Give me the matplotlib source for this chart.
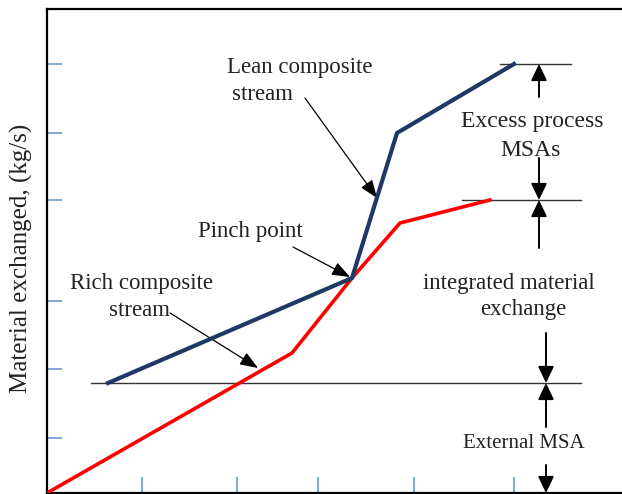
import matplotlib.pyplot as plt

plt.rcParams.update({
    "font.family": "Liberation Serif",
    "figure.dpi": 100,
})

NAVY = "#1F3864"
RED = "#FF0000"
TICK = "#5B8FD0"
INK = "#222222"

# composite curves (arbitrary units)
lean_x = [6.1, 30.5, 35.0, 46.7]
lean_y = [11.0, 21.5, 36.0, 42.9]
rich_x = [0.0, 24.5, 30.5, 35.3, 44.3]
rich_y = [0.0, 14.0, 21.5, 27.0, 29.3]

# reference levels: start of lean curve, top of rich curve, top of lean curve
level_y = [11.0, 29.3, 42.9]
level_x0 = [4.4, 41.5, 45.3]
level_x1 = [53.4, 53.4, 52.4]

x_ticks = [9.5, 19.0, 27.1, 36.7, 46.7]
y_ticks = [5.5, 12.4, 19.2, 29.3, 36.0, 42.9]

fig = plt.figure(figsize=(6.22, 4.94))
ax = fig.add_axes([47 / 622, 1 / 494, 575 / 622, 484 / 494])
ax.set_xlim(0, 57.5)
ax.set_ylim(0, 48.4)

ax.plot(rich_x, rich_y, color=RED, lw=2.6, solid_joinstyle="miter", zorder=3)
ax.plot(lean_x, lean_y, color=NAVY, lw=3.0, solid_joinstyle="miter", zorder=4)

for y, x0, x1 in zip(level_y, level_x0, level_x1):
    ax.plot([x0, x1], [y, y], color="#333333", lw=1.0, zorder=2)

# dimension arrows on the right
big = dict(arrowstyle="-|>,head_length=1.0,head_width=0.48", color="black",
           lw=1.4, mutation_scale=10, shrinkA=0, shrinkB=0)
dims = [
    (49.2, 39.6, 42.9),
    (49.2, 33.5, 29.3),
    (49.2, 24.5, 29.3),
    (49.9, 16.0, 11.0),
    (49.9, 6.6, 11.0),
    (49.9, 2.8, 0.0),
]
for x, y0, y1 in dims:
    ax.annotate("", xy=(x, y1), xytext=(x, y0), arrowprops=big,
                annotation_clip=False)

# pointer arrows to the curves
small = dict(arrowstyle="-|>,head_length=1.1,head_width=0.42", color="black",
             lw=0.9, mutation_scale=10, shrinkA=0, shrinkB=0)
ax.annotate("", xy=(33.0, 29.5), xytext=(25.8, 39.5), arrowprops=small)
ax.annotate("", xy=(30.3, 21.6), xytext=(24.6, 24.6), arrowprops=small)
ax.annotate("", xy=(21.1, 12.5), xytext=(12.3, 18.0), arrowprops=small)

fs = 16.5
ax.text(18.0, 42.5, "Lean composite", fontsize=fs, color=INK, ha="left", va="center")
ax.text(18.5, 39.9, "stream", fontsize=fs, color=INK, ha="left", va="center")
ax.text(20.3, 26.2, "Pinch point", fontsize=fs, color=INK, ha="center", va="center")
ax.text(9.45, 21.0, "Rich composite", fontsize=fs, color=INK, ha="center", va="center")
ax.text(9.3, 18.3, "stream", fontsize=fs, color=INK, ha="center", va="center")
ax.text(48.5, 37.1, "Excess process", fontsize=17, color=INK, ha="center", va="center")
ax.text(48.4, 34.3, "MSAs", fontsize=17, color=INK, ha="center", va="center")
ax.text(46.2, 21.0, "integrated material", fontsize=fs, color=INK, ha="center", va="center")
ax.text(47.6, 18.3, "exchange", fontsize=fs, color=INK, ha="center", va="center")
ax.text(47.7, 5.0, "External MSA", fontsize=15, color=INK, ha="center", va="center")

fig.text(21 / 622, 1 - 258 / 494, "Material exchanged, (kg/s)", fontsize=18,
         color=INK, rotation=90, ha="center", va="center")

ax.set_xticks(x_ticks)
ax.set_yticks(y_ticks)
ax.set_xticklabels([])
ax.set_yticklabels([])
ax.tick_params(axis="x", direction="in", length=11.5, width=1.1, color=TICK)
ax.tick_params(axis="y", direction="in", length=11, width=1.1, color=TICK)

ax.spines["right"].set_visible(False)
for side in ["left", "top", "bottom"]:
    ax.spines[side].set_color("black")
    ax.spines[side].set_linewidth(1.6)

fig.savefig("out.png", dpi=100)
